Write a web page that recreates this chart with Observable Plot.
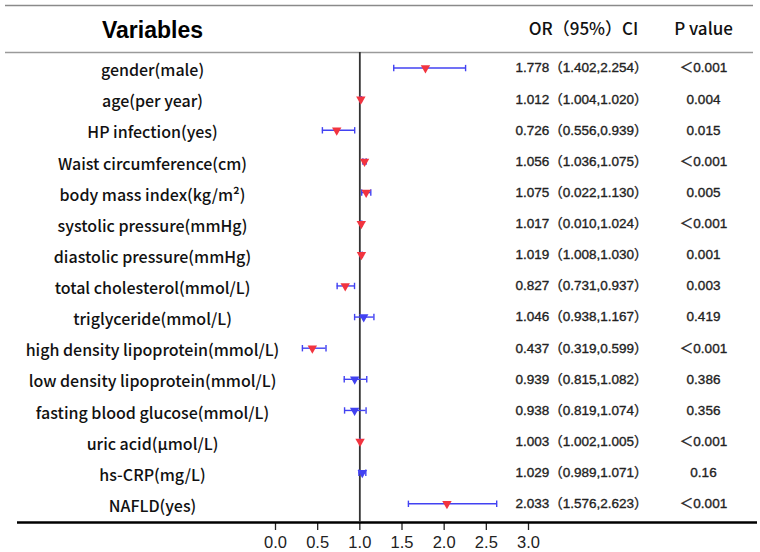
<!DOCTYPE html>
<html>
<head>
<meta charset="utf-8">
<script src="https://cdn.jsdelivr.net/npm/d3@7"></script>
<script src="https://cdn.jsdelivr.net/npm/@observablehq/plot@0.6"></script>
<style>
  html, body { margin: 0; padding: 0; background: #fff; }
  #chart svg { display: block; }
</style>
</head>
<body>
<div id="chart"></div>
<script>
const variables = [
  "gender(male)", "age(per year)", "HP infection(yes)", "Waist circumference(cm)",
  "body mass index(kg/m²)", "systolic pressure(mmHg)", "diastolic pressure(mmHg)",
  "total cholesterol(mmol/L)", "triglyceride(mmol/L)", "high density lipoprotein(mmol/L)",
  "low density lipoprotein(mmol/L)", "fasting blood glucose(mmol/L)", "uric acid(μmol/L)",
  "hs-CRP(mg/L)", "NAFLD(yes)"
];
const orValues = [1.778, 1.012, 0.726, 1.056, 1.075, 1.017, 1.019, 0.827, 1.046, 0.437, 0.939, 0.938, 1.003, 1.029, 2.033];
const ciLower  = [1.402, 1.004, 0.556, 1.036, 1.022, 1.010, 1.008, 0.731, 0.938, 0.319, 0.815, 0.819, 1.002, 0.989, 1.576];
const ciUpper  = [2.254, 1.020, 0.939, 1.075, 1.130, 1.024, 1.030, 0.937, 1.167, 0.599, 1.082, 1.074, 1.005, 1.071, 2.623];
const orText = ["1.778", "1.012", "0.726", "1.056", "1.075", "1.017", "1.019", "0.827", "1.046", "0.437", "0.939", "0.938", "1.003", "1.029", "2.033"];
const ciText = ["（1.402,2.254）", "（1.004,1.020）", "（0.556,0.939）", "（1.036,1.075）", "（0.022,1.130）",
  "（0.010,1.024）", "（1.008,1.030）", "（0.731,0.937）", "（0.938,1.167）", "（0.319,0.599）",
  "（0.815,1.082）", "（0.819,1.074）", "（1.002,1.005）", "（0.989,1.071）", "（1.576,2.623）"];
const pText = ["＜0.001", "0.004", "0.015", "＜0.001", "0.005", "＜0.001", "0.001", "0.003", "0.419",
  "＜0.001", "0.386", "0.356", "＜0.001", "0.16", "＜0.001"];
const xTicks = [0, 0.5, 1, 1.5, 2, 2.5, 3];
const headers = {variables: "Variables", or: "OR（95%）CI", p: "P value"};

const rows = variables.map((v, i) => {
  const pNum = pText[i].startsWith("＜") ? 0 : +pText[i];
  return {
    i, label: v, or: orValues[i], lo: ciLower[i], hi: ciUpper[i],
    orci: orText[i] + ciText[i], p: pText[i], sig: pNum < 0.05
  };
});

const RED = "#f2343f", BLUE = "#4242f2";
const cap = {draw(context, size) { const r = Math.sqrt(size / Math.PI); context.moveTo(0, -r); context.lineTo(0, r); }};
const cjk = "'Noto Sans CJK SC', 'Noto Sans', sans-serif";
const arial = "'Liberation Sans', Arial, 'Noto Sans CJK SC', sans-serif";

const plot = Plot.plot({
  width: 760,
  height: 552,
  marginLeft: 275,
  marginRight: 232,
  marginTop: 52,
  marginBottom: 30,
  style: {background: "#fff", overflow: "visible", color: "#222"},
  x: {domain: [0, 3], axis: null},
  y: {domain: [-0.5, 14.6], reverse: true, axis: null},
  marks: [
    // table rules
    Plot.ruleY([-0.5], {dy: -47, insetLeft: -270, insetRight: -225, stroke: "#8a8a8a", strokeWidth: 1.5}),
    Plot.ruleY([-0.5], {insetLeft: -270, insetRight: -225, stroke: "#9a9a9a", strokeWidth: 1.5}),
    // x axis: tick marks and labels
    Plot.ruleX(xTicks, {x: d => d, insetTop: 470, insetBottom: -8, stroke: "#222", strokeWidth: 1.3}),
    Plot.text(xTicks, {x: d => d, text: d3.format(".1f"), frameAnchor: "bottom", lineAnchor: "middle", dy: 20,
      fontSize: 16.5, fontFamily: arial, fill: "#222"}),
    Plot.ruleY([14.6], {insetLeft: -258, insetRight: -229, stroke: "#000", strokeWidth: 2.5}),
    // reference line
    Plot.ruleX([1], {stroke: "#333", strokeWidth: 1.8}),
    // error bars
    Plot.ruleY(rows, {y: "i", x1: "lo", x2: "hi", stroke: BLUE, strokeWidth: 1.4}),
    Plot.dot(rows, {y: "i", x: "lo", symbol: cap, r: 3.2, stroke: BLUE, strokeWidth: 1.4}),
    Plot.dot(rows, {y: "i", x: "hi", symbol: cap, r: 3.2, stroke: BLUE, strokeWidth: 1.4}),
    // point estimates
    Plot.dot(rows, {y: "i", x: "or", symbol: "triangle", rotate: 180, r: 3.5,
      fill: d => d.sig ? RED : BLUE, stroke: null}),
    // left labels
    Plot.text(rows, {y: "i", text: "label", frameAnchor: "left", dx: -123, dy: 3, textAnchor: "middle",
      fontSize: 16, fontWeight: 500, fontFamily: cjk, fill: "#111"}),
    // OR (95%) CI column
    Plot.text(rows, {y: "i", text: "orci", frameAnchor: "right", dx: -13, textAnchor: "start",
      fontSize: 13.5, fontWeight: "normal", fontFamily: arial, fill: "#222", stroke: "#222", strokeWidth: 0.35}),
    // P value column
    Plot.text(rows, {y: "i", text: "p", frameAnchor: "right", dx: 175, textAnchor: "middle",
      fontSize: 13.5, fontWeight: "normal", fontFamily: arial, fill: "#222", stroke: "#222", strokeWidth: 0.35}),
    // headers
    Plot.text([headers.variables], {frameAnchor: "top-left", lineAnchor: "middle", dx: -123, dy: -22, textAnchor: "middle",
      fontSize: 23, fontWeight: "bold", fontFamily: arial, fill: "#000"}),
    Plot.text([headers.or], {frameAnchor: "top-right", lineAnchor: "middle", dx: 55, dy: -23, textAnchor: "middle",
      fontSize: 17, fontWeight: 500, fontFamily: cjk, fill: "#111"}),
    Plot.text([headers.p], {frameAnchor: "top-right", lineAnchor: "middle", dx: 175, dy: -23, textAnchor: "middle",
      fontSize: 17, fontWeight: 500, fontFamily: cjk, fill: "#111"})
  ]
});
document.getElementById("chart").append(plot);
</script>
</body>
</html>
